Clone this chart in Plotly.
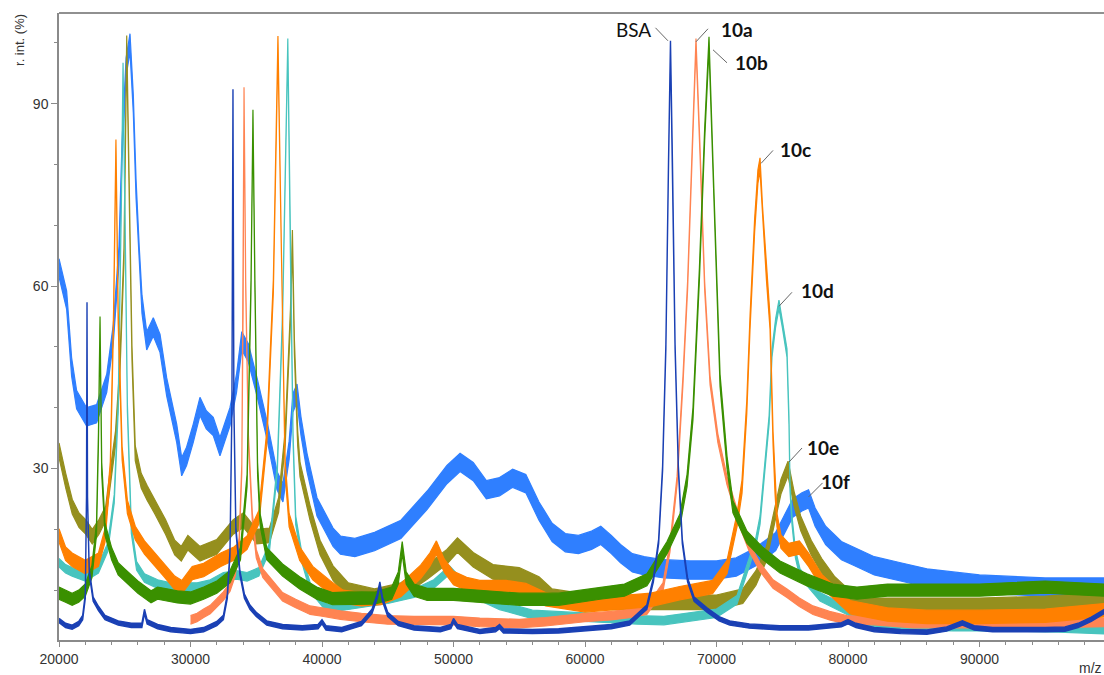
import plotly.graph_objects as go

# ---------------- data (m/z, relative intensity %) ----------------
bsa_mz = [20000, 20500, 21000, 21500, 21800, 22000, 22090, 22130, 22170, 22300, 22600, 23000, 23500,
          24500, 25500, 26300, 26500, 26700, 27500, 28500, 30000, 31000, 32000, 32500, 32800, 33000,
          33150, 33230, 33300, 33450, 33760, 34100, 34520, 35000, 35800, 37000, 38500, 39700, 40000,
          40300, 41500, 43000, 43800, 44200, 44400, 44600, 45000, 45800, 47000, 49000, 49800, 50000,
          50300, 52000, 53200, 53500, 53800, 56000, 58000, 60000, 62000, 63400, 64100, 64700, 65200,
          65600, 65900, 66150, 66350, 66500, 66650, 66850, 67100, 67400, 67800, 68300, 69300, 70200,
          71000, 72500, 74800, 77000, 79500, 80000, 80600, 82000, 84000, 86000, 87500, 88700, 89600,
          91000, 95000, 96500, 97500, 98500, 99500]
bsa_int = [5.0, 4.2, 3.9, 4.5, 5.5, 9, 25, 57, 25, 13, 8.5, 7, 5.5,
           4.6, 4.2, 4.2, 6.5, 4.8, 4.0, 3.5, 3.2, 3.5, 4.5, 5.5, 9, 16,
           40, 92, 40, 20, 12.8, 9, 7.2, 6, 4.6, 4, 3.8, 4, 4.8,
           3.8, 3.5, 4.5, 6.5, 9, 11, 8.5, 6, 4.5, 3.8, 3.5, 4, 5,
           4, 3.2, 3.5, 4, 3.3, 3.2, 3.3, 3.6, 4, 4.6, 6, 7.2, 11.7,
           18, 30, 50, 80, 100, 80, 50, 30, 18, 11.7, 8.5, 6.7, 5.3,
           4.6, 4.1, 3.8, 3.8, 4.3, 4.8, 4.2, 3.5, 3.2, 3.1, 3.6, 4.6, 3.8,
           3.5, 3.5, 3.6, 4.2, 5.2, 6.5]

c10a_mz = [30000, 30500, 31000, 31500, 32000, 32500, 33000, 33400, 33700, 33900, 34000, 34070, 34200,
           34400, 34700, 35000, 35500, 36000, 37000, 38000, 39100, 40000, 41400, 43000, 45000, 47000,
           50000, 52000, 55000, 57000, 60000, 62000, 63500, 64700, 65300, 65930, 66460, 67000, 67450,
           67800, 68150, 68440, 68750, 69100, 69510, 70100, 70800, 71790, 72500, 73300, 74300, 75360,
           76300, 77340, 78600, 79920, 82000, 85000, 90000, 95000, 99500]
c10a_int = [5.1, 5.5, 6.2, 6.8, 7.9, 9, 10.5, 13, 18, 30, 55, 92, 60,
            35, 22, 16, 12.8, 11.5, 8.9, 7.8, 6.7, 6.4, 5.9, 5.5, 5.1, 5.0,
            5.0, 4.7, 4.5, 4.8, 5.5, 5.8, 6.2, 6.7, 8.5, 10.5, 17, 28, 44.5,
            60, 82, 100, 82, 60, 44.5, 35, 28, 21, 17, 13.8, 11, 9.5,
            8, 6.7, 5.8, 5.1, 5.0, 4.5, 4.5, 4.5, 4.7]

c10b_mz = [20000, 20500, 21000, 21500, 22000, 22500, 22850, 23000, 23120, 23250, 23500, 24000, 24500,
           25000, 26000, 27000, 27500, 28000, 29000, 30000, 31000, 32000, 33000, 33800, 34300, 34600,
           34750, 34900, 35100, 35300, 35800, 37000, 38300, 39600, 40800, 42000, 44000, 45300, 45800,
           46100, 46400, 47000, 48000, 50000, 52000, 55000, 58000, 61140, 63000, 64710, 66240, 67220,
           67760, 68210, 68700, 69100, 69430, 69800, 70270, 70800, 71250, 72320, 73540, 74830, 76880,
           78860, 80680, 83000, 86000, 90000, 95000, 99500]
c10b_int = [9.5, 9, 8.5, 9, 10, 13, 20, 35, 54, 30, 20, 16, 13.5,
            12.5, 10.5, 8.9, 9.5, 9.3, 8.9, 8.7, 9.5, 10.5, 12.2, 16, 28, 60,
            88, 60, 30, 21.5, 16, 13.3, 11.2, 9.5, 8.6, 8.7, 8.7, 9.5, 12,
            17, 12, 10, 9.3, 9.3, 9, 8.5, 8.5, 9.5, 10, 11.7, 17, 21.5,
            28, 39, 62, 85, 100, 75, 44.5, 31, 23.7, 18.7, 16, 13.8, 11.7,
            10, 9.5, 10, 10, 10, 10.5, 10]

c10c_mz = [20000, 20500, 21000, 22000, 23000, 23500, 23900, 24150, 24330, 24500, 24800, 25200, 25800,
           26500, 27300, 28000, 28800, 29350, 30130, 31000, 32300, 33300, 34300, 35200, 35800, 36300,
           36650, 36950, 37200, 37500, 38300, 39300, 40600, 41600, 43000, 44500, 46000, 47500, 48200,
           48700, 49300, 50000, 51000, 52000, 54000, 55500, 57000, 60000, 63000, 65000, 67200, 69700,
           70800, 71560, 71940, 72300, 72550, 72900, 73150, 73310, 73500, 73800, 74070, 74300, 74450,
           74600, 74900, 75500, 76300, 77000, 78000, 79000, 80150, 83000, 86000, 90000, 95000, 99500]
c10c_int = [19, 16, 15, 13.8, 15, 19, 30, 55, 83, 55, 32.5, 23.7, 19.4,
            17, 15, 13.3, 11.2, 10.5, 12.8, 13.3, 15, 16, 17.8, 22, 35, 60,
            100, 60, 30, 21.5, 16, 12.8, 10.5, 8.9, 8.5, 8.7, 10, 13, 15,
            17, 14, 12, 11, 10.5, 10.5, 10, 8.5, 7.5, 8, 8.4, 9.5, 10.5,
            13.8, 21.5, 27, 40, 54, 70, 78, 80, 72, 62, 54, 35, 27,
            21.5, 18, 16.6, 17, 15, 11.5, 9.5, 7.2, 6, 5.6, 5.6, 5.8, 6.7]

c10d_mz = [20000, 20500, 21000, 22000, 23000, 23700, 24200, 24500, 24750, 24870, 25000, 25200, 25500,
           25900, 26500, 27500, 28500, 29500, 30500, 31500, 32500, 33500, 34300, 35200, 36000, 36600,
           37000, 37400, 37600, 37800, 38000, 38500, 39100, 40400, 42000, 45000, 47000, 48500, 49700,
           50700, 52000, 53500, 56000, 60000, 64000, 66000, 68000, 70000, 71560, 72320, 73000, 73310,
           73540, 74000, 74220, 74500, 74750, 75000, 75360, 75510, 75590, 75740, 76000, 76350, 77870,
           79920, 81440, 84000, 88000, 92000, 96000, 99500]
c10d_int = [14.5, 13.5, 13, 12.2, 13.5, 17, 25, 40, 75, 96, 75, 40, 20,
            14, 12, 11, 10.5, 10.5, 10.5, 11, 12.2, 12.5, 12.2, 13, 17, 30,
            55, 100, 65, 35, 21.5, 15, 10.5, 7, 7.5, 8.5, 9.5, 11, 13.3,
            11, 9, 7.5, 6, 5.5, 5.1, 5, 5.6, 6.2, 8.4, 13.3, 18, 21.5,
            27, 38, 49, 54, 57, 54, 49, 38, 27, 21.5, 16, 12.8, 8.9,
            6.7, 4.8, 4.2, 4, 4, 3.8, 3.5]

c10e_mz = [20000, 20510, 21010, 21520, 22030, 22530, 23040, 23550, 23800, 24300, 24600, 24940, 25150,
           25350, 25550, 25800, 26250, 26700, 27300, 28100, 28800, 29300, 29800, 30720, 31990, 33250,
           34020, 35030, 36000, 36700, 37200, 37600, 37750, 37900, 38150, 38330, 39090, 39850, 40840,
           42000, 44000, 46000, 48000, 49500, 50300, 51500, 53000, 55000, 56500, 57500, 59000, 62000,
           65000, 70000, 72000, 73000, 73800, 74400, 74900, 75440, 75900, 76400, 77200, 78000, 79000,
           80000, 81500, 85000, 90000, 95000, 99500]
c10e_int = [33, 28, 23.7, 21.5, 20.4, 18.8, 20.4, 22.6, 27, 35, 45, 65, 100,
            72, 49, 32.5, 28, 26, 23.7, 20.4, 17, 16, 17.8, 16, 17.1, 20.4,
            21.5, 18.8, 19, 24, 35, 55, 68, 50, 35, 29.8, 22.7, 17, 12.8,
            10, 9, 10, 13, 15.5, 17.4, 15, 13, 12.5, 11, 9, 8.5, 8,
            8, 8, 9, 12, 16, 22, 27, 30, 25, 21, 17, 14, 11,
            9, 7.5, 7.5, 7.5, 7.8, 8.4]

c10f_mz = [20000, 20580, 20960, 21340, 22100, 22860, 23630, 24130, 24560, 24790, 25100, 25400, 25650,
           25860, 26100, 26310, 26670, 27170, 27680, 28190, 28950, 29330, 29700, 30210, 30720, 31200,
           31730, 32240, 33000, 33500, 33900, 34400, 35060, 35820, 36580, 37030, 37500, 37790, 38100,
           38400, 38860, 39620, 40840, 41400, 42500, 44000, 46000, 48000, 49500, 50500, 51500, 52500,
           53500, 54500, 55500, 56500, 57500, 58500, 59500, 60500, 61200, 62000, 62700, 63600, 64500,
           66000, 68000, 70000, 71500, 73000, 74500, 75200, 75800, 76500, 77000, 77500, 78300, 79500,
           80500, 82000, 84000, 86000, 88000, 90000, 95000, 99500]
c10f_int = [63, 57.7, 46.7, 41.3, 38.5, 39, 44, 52.2, 65, 82, 96, 100, 90,
            76, 65, 57, 51, 53.3, 50.6, 43.4, 35.8, 30.3, 32, 35.8, 40.2, 38,
            36.9, 33.6, 38.5, 44, 51, 49, 43.4, 36.3, 28, 26, 33, 40.8, 42.4,
            37, 31, 23.7, 18.7, 17.4, 17, 18, 20, 24.8, 29, 31, 29.5, 26.5,
            27, 28.4, 27.5, 23, 19.5, 17.8, 17.5, 18.2, 19, 17.5, 16, 14.5, 14,
            13.5, 13.3, 13.3, 13.8, 15.5, 18, 21, 23.5, 24.5, 25, 22, 19, 16.5,
            15.5, 14, 13, 12, 11.5, 11, 10.5, 10.5]

# ---------------- styling: colour, noise-band half height (in % units), edge width ----------------
series = [
    (c10f_mz, c10f_int, "#2f7fff", 1.5, 1.2),
    (c10e_mz, c10e_int, "#958f1e", 1.2, 1.2),
    (c10d_mz, c10d_int, "#48c4be", 0.7, 1.2),
    (c10a_mz, c10a_int, "#ff8452", 0.7, 1.2),
    (c10c_mz, c10c_int, "#ff8000", 1.1, 1.2),
    (c10b_mz, c10b_int, "#3a9000", 1.0, 1.2),
    (bsa_mz, bsa_int, "#1a40b4", 0.35, 1.4),
]

AX_FONT = "Arial"

fig = go.Figure()
for mz, it, col, half, w in series:
    upper = [v + half for v in it]
    lower = [v - half for v in it]
    fig.add_trace(go.Scatter(x=list(mz) + list(mz)[::-1], y=upper + lower[::-1],
                             mode="lines", fill="toself", fillcolor=col,
                             line=dict(color=col, width=w),
                             showlegend=False, hoverinfo="skip"))

X0 = 20000
PX_PER_MZ = 0.01315
X1 = X0 + 1045 / PX_PER_MZ
fig.update_layout(
    width=1104, height=675,
    margin=dict(l=59, r=0, t=13, b=35),
    paper_bgcolor="white", plot_bgcolor="white",
    font=dict(family=AX_FONT, size=13, color="#333333"),
    xaxis=dict(range=[X0, X1], showgrid=False, zeroline=False, showline=True,
               linecolor="#8a8a8a", linewidth=1.5, ticks="outside", ticklen=5,
               tickcolor="#8a8a8a", tickmode="linear", tick0=20000, dtick=10000,
               tickformat="d",
               tickfont=dict(family=AX_FONT, size=14, color="#333333"),
               minor=dict(dtick=2000, tick0=20000, ticks="outside", ticklen=3,
                          tickcolor="#8a8a8a", showgrid=False)),
    yaxis=dict(range=[1.8, 104.9], showgrid=False, zeroline=False, showline=True,
               linecolor="#8a8a8a", linewidth=1.5, ticks="outside", ticklen=6,
               tickcolor="#8a8a8a", tickmode="array",
               tickvals=[30, 60, 90],
               tickfont=dict(family=AX_FONT, size=14, color="#333333"),
               minor=dict(dtick=10, tick0=0, ticks="outside", ticklen=3,
                          tickcolor="#8a8a8a", showgrid=False)),
)

# top frame line
fig.add_shape(type="line", xref="paper", yref="paper", x0=0, x1=1, y0=1, y1=1,
              line=dict(color="#222222", width=1.2))

# axis titles
fig.add_annotation(text="r. int. (%)", xref="paper", yref="paper", x=-0.0373, y=0.957,
                   xanchor="center", yanchor="middle",
                   textangle=-90, showarrow=False,
                   font=dict(family=AX_FONT, size=13, color="#333333"))
fig.add_annotation(text="m/z", xref="paper", yref="paper", x=1.0, y=-0.045,
                   xanchor="right", yanchor="middle", showarrow=False,
                   font=dict(family=AX_FONT, size=14, color="#333333"))


def peak(mz, it, lo, hi):
    best = None
    for m, v in zip(mz, it):
        if lo <= m <= hi and (best is None or v > best[1]):
            best = (m, v)
    return best


labels = [
    ("BSA", peak(bsa_mz, bsa_int, 60000, 70000), False, (-2.5, 2, -15, 15), (-37, 13)),
    ("10a", peak(c10a_mz, c10a_int, 60000, 72000), True, (0, 1, 12, 14), (41, 13)),
    ("10b", peak(c10b_mz, c10b_int, 60000, 72000), True, (4, -7, 18, -20), (42, -20)),
    ("10c", peak(c10c_mz, c10c_int, 70000, 76000), True, (1, 1, 13, 14), (35, 15)),
    ("10d", peak(c10d_mz, c10d_int, 70000, 78000), True, (0, -2, 13, 12), (39, 14)),
    ("10e", peak(c10e_mz, c10e_int, 70000, 80000), True, (1, 6.5, 14, 20.5), (35, 21.5)),
    ("10f", peak(c10f_mz, c10f_int, 74000, 80000), True, (0, 2, 14, 16), (27, 17)),
]
for txt, (pm, pv), bold, (lx0, ly0, lx1, ly1), (tx, ty) in labels:
    fig.add_shape(type="line", xref="x", yref="y", xsizemode="pixel", ysizemode="pixel",
                  xanchor=pm, yanchor=pv, x0=lx0, y0=ly0, x1=lx1, y1=ly1,
                  line=dict(color="#666666", width=1))
    fig.add_annotation(text=f"<b>{txt}</b>" if bold else txt, x=pm, y=pv, xref="x", yref="y",
                       xshift=tx, yshift=ty, showarrow=False, xanchor="center", yanchor="middle",
                       font=dict(family="Lato, Carlito, sans-serif", size=19, color="#111111"))

fig.write_html("out.html")
